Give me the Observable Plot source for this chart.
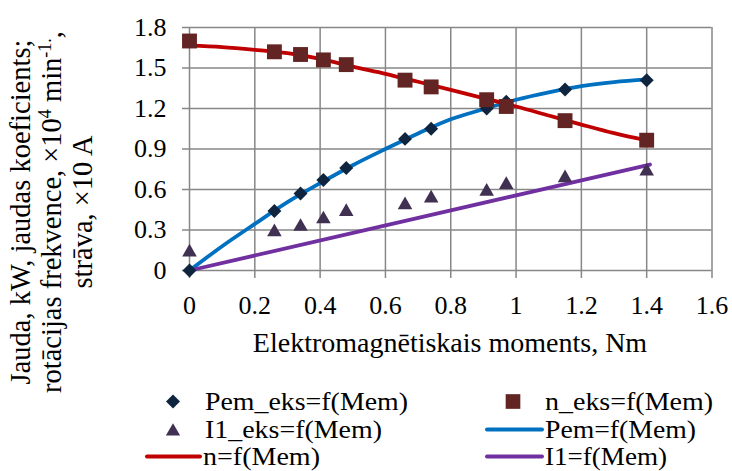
<!DOCTYPE html>
<html><head><meta charset="utf-8">
<script src="https://cdn.jsdelivr.net/npm/d3@7"></script>
<script src="https://cdn.jsdelivr.net/npm/@observablehq/plot@0.6"></script>
<style>
body{margin:0;background:#fff;}
#wrap{position:relative;width:732px;height:471px;overflow:hidden;background:#fff;font-family:"Liberation Serif","Tinos","Times New Roman","Times","Nimbus Roman","DejaVu Serif",serif;}
#wrap svg.ov{position:absolute;left:0;top:0;pointer-events:none;}
#chart{position:absolute;left:0;top:0;}
#wrap text{font-family:"Liberation Serif","Tinos","Times New Roman","Times","Nimbus Roman","DejaVu Serif",serif;}
</style></head>
<body><div id="wrap"><div id="chart"></div></div>
<script>
// Experimental points
const mem = [0, 0.26, 0.34, 0.41, 0.48, 0.66, 0.74, 0.91, 0.97, 1.15, 1.40];
const pemEks = [0, 0.44, 0.57, 0.67, 0.76, 0.975, 1.05, 1.20, 1.25, 1.34, 1.41];
const nEks = [1.70, 1.62, 1.60, 1.56, 1.525, 1.41, 1.36, 1.265, 1.215, 1.11, 0.965];
const i1Eks = [0.15, 0.30, 0.34, 0.395, 0.45, 0.50, 0.55, 0.60, 0.65, 0.70, 0.75];
// Calculated curves
const memLine = [0, 0.1, 0.2, 0.3, 0.4, 0.5, 0.6, 0.7, 0.8, 0.9, 1.0, 1.1, 1.2, 1.3, 1.4];
const pemLine = [0, 0.18, 0.345, 0.506, 0.647, 0.78, 0.90, 1.015, 1.12, 1.195, 1.265, 1.32, 1.365, 1.395, 1.415];
const nLine = [1.665, 1.655, 1.635, 1.61, 1.568, 1.51, 1.457, 1.398, 1.338, 1.277, 1.215, 1.148, 1.081, 1.017, 0.963];
const memI1Line = [0, 1.41];
const i1Line = [0, 0.785];
// Ticks
const xTicks = [0, 0.2, 0.4, 0.6, 0.8, 1, 1.2, 1.4, 1.6];
const yTicks = [0, 0.3, 0.6, 0.9, 1.2, 1.5, 1.8];
// Text
const xTitle = "Elektromagnētiskais moments, Nm";
const legendLabels = ["Pem_eks=f(Mem)", "n_eks=f(Mem)", "I1_eks=f(Mem)", "Pem=f(Mem)", "n=f(Mem)", "I1=f(Mem)"];

const C = {dia:"#0f243e", sq:"#632523", tri:"#403152", blue:"#0070c0", red:"#c00000", purple:"#7030a0", grid:"#878787"};
const FONT = '"Liberation Serif", "Tinos", "Times New Roman", "Times", "Nimbus Roman", "DejaVu Serif", serif';

const ptsTable = mem.map((m,i)=>({m, pem:pemEks[i], n:nEks[i], i1:i1Eks[i]}));
const lineTable = memLine.map((m,i)=>({m, pem:pemLine[i], n:nLine[i]}));
const i1Table = memI1Line.map((m,i)=>({m, v:i1Line[i]}));
const fmt = d => String(+d.toFixed(1));

const plot = Plot.plot({
  width: 732, height: 380,
  marginLeft: 189, marginRight: 20.5, marginTop: 27, marginBottom: 110,
  x: {domain: [0, 1.6]},
  y: {domain: [0, 1.8]},
  style: {fontFamily: FONT, fontSize: "26px", color: "#000", background: "transparent", overflow: "visible"},
  marks: [
    Plot.gridX(xTicks, {stroke: C.grid, strokeOpacity: 1, strokeWidth: 1.5}),
    Plot.gridY(yTicks, {stroke: C.grid, strokeOpacity: 1, strokeWidth: 1.5}),
    Plot.axisX(xTicks, {tickSize: 8, tickPadding: 17, stroke: C.grid, strokeWidth: 1.5, fill: "#000", tickFormat: fmt, label: null}),
    Plot.axisY(yTicks, {tickSize: 7, tickPadding: 16, stroke: C.grid, strokeWidth: 1.5, fill: "#000", tickFormat: fmt, label: null}),
    Plot.line(lineTable, {x: "m", y: "pem", stroke: C.blue, strokeWidth: 3.8, curve: "catmull-rom", strokeLinecap: "round"}),
    Plot.line(lineTable, {x: "m", y: "n", stroke: C.red, strokeWidth: 3.8, curve: "catmull-rom", strokeLinecap: "round"}),
    Plot.line(i1Table, {x: "m", y: "v", stroke: C.purple, strokeWidth: 3.8, strokeLinecap: "round"}),
    Plot.dot(ptsTable, {x: "m", y: "pem", symbol: "diamond2", r: 6.3, fill: C.dia, stroke: "none"}),
    Plot.dot(ptsTable, {x: "m", y: "i1", symbol: "triangle", r: 5.4, fill: C.tri, stroke: "none", dy: 2}),
    Plot.dot(ptsTable, {x: "m", y: "n", symbol: "square", r: 8.4, fill: C.sq, stroke: "none"})
  ]
});
plot.querySelectorAll("text").forEach(t => t.style.fontFamily = FONT);
document.getElementById("chart").appendChild(plot);

// Overlay: axis titles and legend
const ov = d3.select("#wrap").append("svg").attr("class","ov").attr("width",732).attr("height",471)
  .attr("font-family", FONT);

ov.append("text").attr("x", 450).attr("y", 352).attr("text-anchor","middle")
  .attr("font-size", 28).attr("fill","#000").text(xTitle);

const yt = ov.append("text").attr("transform","translate(0,212) rotate(-90)")
  .attr("text-anchor","middle").attr("font-size", 28.5).attr("fill","#000");
yt.append("tspan").attr("x",0).attr("y",30).text("Jauda, kW, jaudas koeficients;");
const l2 = yt.append("tspan").attr("x",0).attr("y",61);
l2.append("tspan").text("rotācijas frekvence, ×10");
l2.append("tspan").attr("font-size",18).attr("dy",-10).text("4");
l2.append("tspan").attr("dy",10).text(" min");
l2.append("tspan").attr("font-size",18).attr("dy",-10).text("-1.");
l2.append("tspan").attr("dy",10).text(",");
yt.append("tspan").attr("x",0).attr("y",92).text("strāva, ×10 A");

// Legend
const legend = [
  {label: legendLabels[0], type: "sym", sym: d3.symbolDiamond2, size: 125, color: C.dia, cx: 173, base: 410, tx: 205, w: 203},
  {label: legendLabels[1], type: "sym", sym: d3.symbolSquare, size: 215, color: C.sq, cx: 513, base: 410, tx: 545, w: 168},
  {label: legendLabels[2], type: "sym", sym: d3.symbolTriangle, size: 88, color: C.tri, cx: 173, base: 438, tx: 205, w: 177},
  {label: legendLabels[3], type: "line", color: C.blue, x1: 487, x2: 542, base: 438, tx: 545, w: 151},
  {label: legendLabels[4], type: "line", color: C.red, x1: 147, x2: 200, base: 465, tx: 203, w: 117},
  {label: legendLabels[5], type: "line", color: C.purple, x1: 487, x2: 542, base: 465, tx: 545, w: 122}
];
for (const it of legend) {
  const cy = it.base - 8.5;
  if (it.type === "sym") {
    ov.append("path").attr("d", d3.symbol(it.sym, it.size)())
      .attr("transform", `translate(${it.cx},${cy + (it.sym === d3.symbolTriangle ? 2 : 0)})`).attr("fill", it.color);
  } else {
    ov.append("line").attr("x1", it.x1).attr("x2", it.x2).attr("y1", cy).attr("y2", cy)
      .attr("stroke", it.color).attr("stroke-width", 4).attr("stroke-linecap","round");
  }
  ov.append("text").attr("x", it.tx).attr("y", it.base).attr("font-size", 25).attr("fill","#000")
    .attr("textLength", it.w).attr("lengthAdjust", "spacingAndGlyphs").text(it.label);
}
</script></body></html>
